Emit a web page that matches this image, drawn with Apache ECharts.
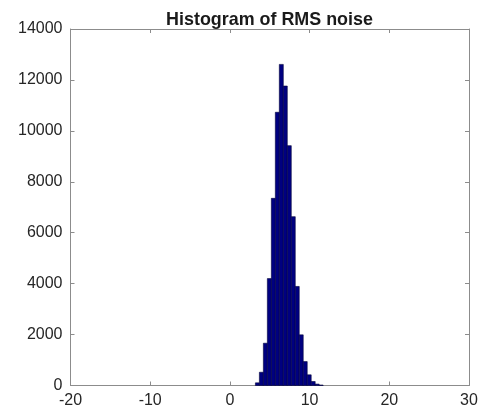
<!DOCTYPE html>
<html>
<head>
<meta charset="utf-8">
<script src="https://cdn.jsdelivr.net/npm/echarts@6/dist/echarts.min.js"></script>
<style>html,body{margin:0;padding:0;background:#fff;}#c{width:483px;height:416px;}</style>
</head>
<body>
<div id="c"></div>
<script>
const titleText = 'Histogram of RMS noise';
const binCenters = [3.45, 3.95, 4.45, 4.95, 5.45, 5.95, 6.45, 6.95, 7.45, 7.95, 8.45, 8.95, 9.45, 9.95, 10.45, 10.95, 11.45];
const counts = [105, 520, 1660, 4200, 7350, 10730, 12610, 11760, 9420, 6630, 3890, 1990, 940, 420, 157, 55, 20];
const xTicks = [-20, -10, 0, 10, 20, 30];
const yTicks = [0, 2000, 4000, 6000, 8000, 10000, 12000, 14000];
const binWidth = 0.5;

const chart = echarts.init(document.getElementById('c'), null, {renderer: 'canvas'});
const font = 'Liberation Sans, Arial, Helvetica, sans-serif';
const axisCol = '#8c8c8c';
const labelCol = '#262626';
const grid = {left: 70.5, right: 14, top: 29, bottom: 30.5};
const plainFmt = v => String(v);

function axisBase(extra) {
  return Object.assign({
    type: 'value',
    axisLine: {show: true, onZero: false, lineStyle: {color: axisCol, width: 1}},
    axisTick: {show: true, inside: true, length: 4, lineStyle: {color: axisCol}},
    splitLine: {show: false}
  }, extra);
}

chart.setOption({
  animation: false,
  title: {
    text: titleText, left: 264.5, textAlign: 'center', top: 6,
    textStyle: {fontFamily: font, fontWeight: 'bold', fontSize: 17.9, color: '#1a1a1a'}
  },
  grid: grid,
  xAxis: [
    axisBase({min: xTicks[0], max: xTicks[xTicks.length - 1], interval: 10, position: 'bottom',
      axisLabel: {fontFamily: font, fontSize: 16, color: labelCol, margin: 7, formatter: plainFmt}}),
    axisBase({min: xTicks[0], max: xTicks[xTicks.length - 1], interval: 10, position: 'top',
      axisLabel: {show: false}})
  ],
  yAxis: [
    axisBase({min: yTicks[0], max: yTicks[yTicks.length - 1], interval: 2000, position: 'left',
      axisLabel: {fontFamily: font, fontSize: 16, color: labelCol, margin: 8, formatter: plainFmt}}),
    axisBase({min: yTicks[0], max: yTicks[yTicks.length - 1], interval: 2000, position: 'right',
      axisLabel: {show: false}})
  ],
  series: [{
    type: 'custom',
    xAxisIndex: 0, yAxisIndex: 0,
    data: binCenters.map((c, i) => [c, counts[i]]),
    renderItem: function (params, api) {
      const c = api.value(0), v = api.value(1);
      const p0 = api.coord([c - binWidth / 2, v]);
      const p1 = api.coord([c + binWidth / 2, 0]);
      return {
        type: 'rect',
        shape: {x: p0[0], y: p0[1], width: p1[0] - p0[0], height: p1[1] - p0[1]},
        style: {fill: '#000080', stroke: '#00003a', lineWidth: 0.6}
      };
    }
  }]
});
</script>
</body>
</html>
